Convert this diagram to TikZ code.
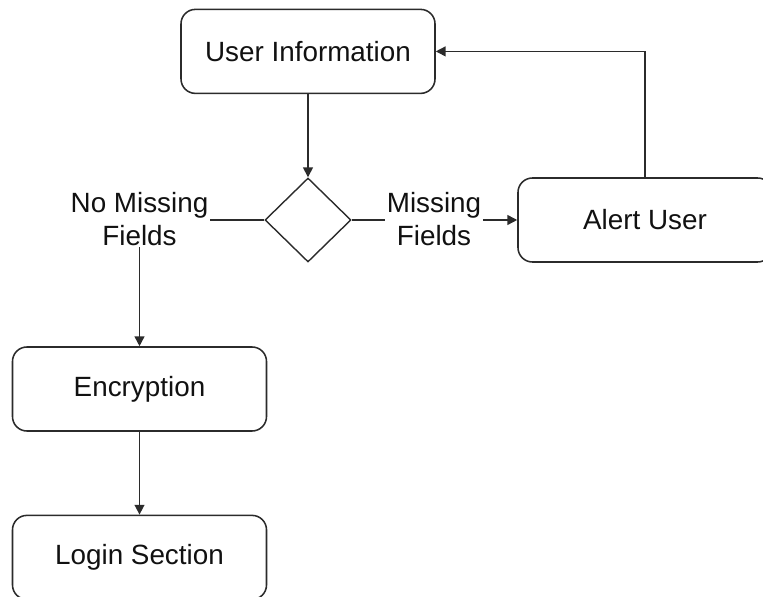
\documentclass[tikz,border=0pt]{standalone}
\usepackage{fontspec}
\setmainfont{Liberation Sans}
\usepackage{tikz}
\usetikzlibrary{arrows.meta,calc,positioning,shapes.geometric}
\usepackage{xcolor}
\definecolor{edge}{HTML}{2B2B2B}
\definecolor{ink}{HTML}{111111}
\tikzset{
  stepbox/.style={draw=edge,line width=1.1pt,rounded corners=0.36cm,minimum width=6.35cm,minimum height=2.1cm,text=ink,font=\fontsize{19.8}{23.4}\selectfont},
  choice/.style={draw=edge,line width=1pt,diamond,aspect=1,inner sep=0pt,minimum width=2.15cm,minimum height=2.1cm},
  branch/.style={align=center,inner sep=1pt,text=ink,font=\fontsize{19.8}{23.4}\selectfont},
  flow/.style={draw=edge,line width=1.1pt,-{Triangle[length=7pt,width=7pt]}},
  plain/.style={draw=edge,line width=1.1pt}
}
\begin{document}
\begin{tikzpicture}
\useasboundingbox (0,0) rectangle (19.075,14.925);
\node[stepbox] (userinfo) at (7.7,13.64) {User Information};
\node[choice] (check) at (7.7,9.425) {};
\node[branch] (nomiss) at (3.4875,9.45) {No Missing\\Fields};
\node[branch] (miss) at (10.85,9.45) {Missing\\Fields};
\node[stepbox] (alert) at (16.125,9.425) {Alert User};
\node[stepbox] (encrypt) at (3.4875,5.2) {Encryption};
\node[stepbox] (login) at (3.4875,0.99) {Login Section};
\draw[flow] (userinfo) -- (check);
\draw[plain] (check.west) -- (nomiss.east |- check.west);
\draw[flow] (nomiss.south) -- (encrypt.north);
\draw[plain] (check.east) -- (miss.west |- check.east);
\draw[flow] (miss.east |- check.east) -- (alert.west);
\draw[flow] (alert.north) |- (userinfo.east);
\draw[flow] (encrypt) -- (login);
\end{tikzpicture}
\end{document}
